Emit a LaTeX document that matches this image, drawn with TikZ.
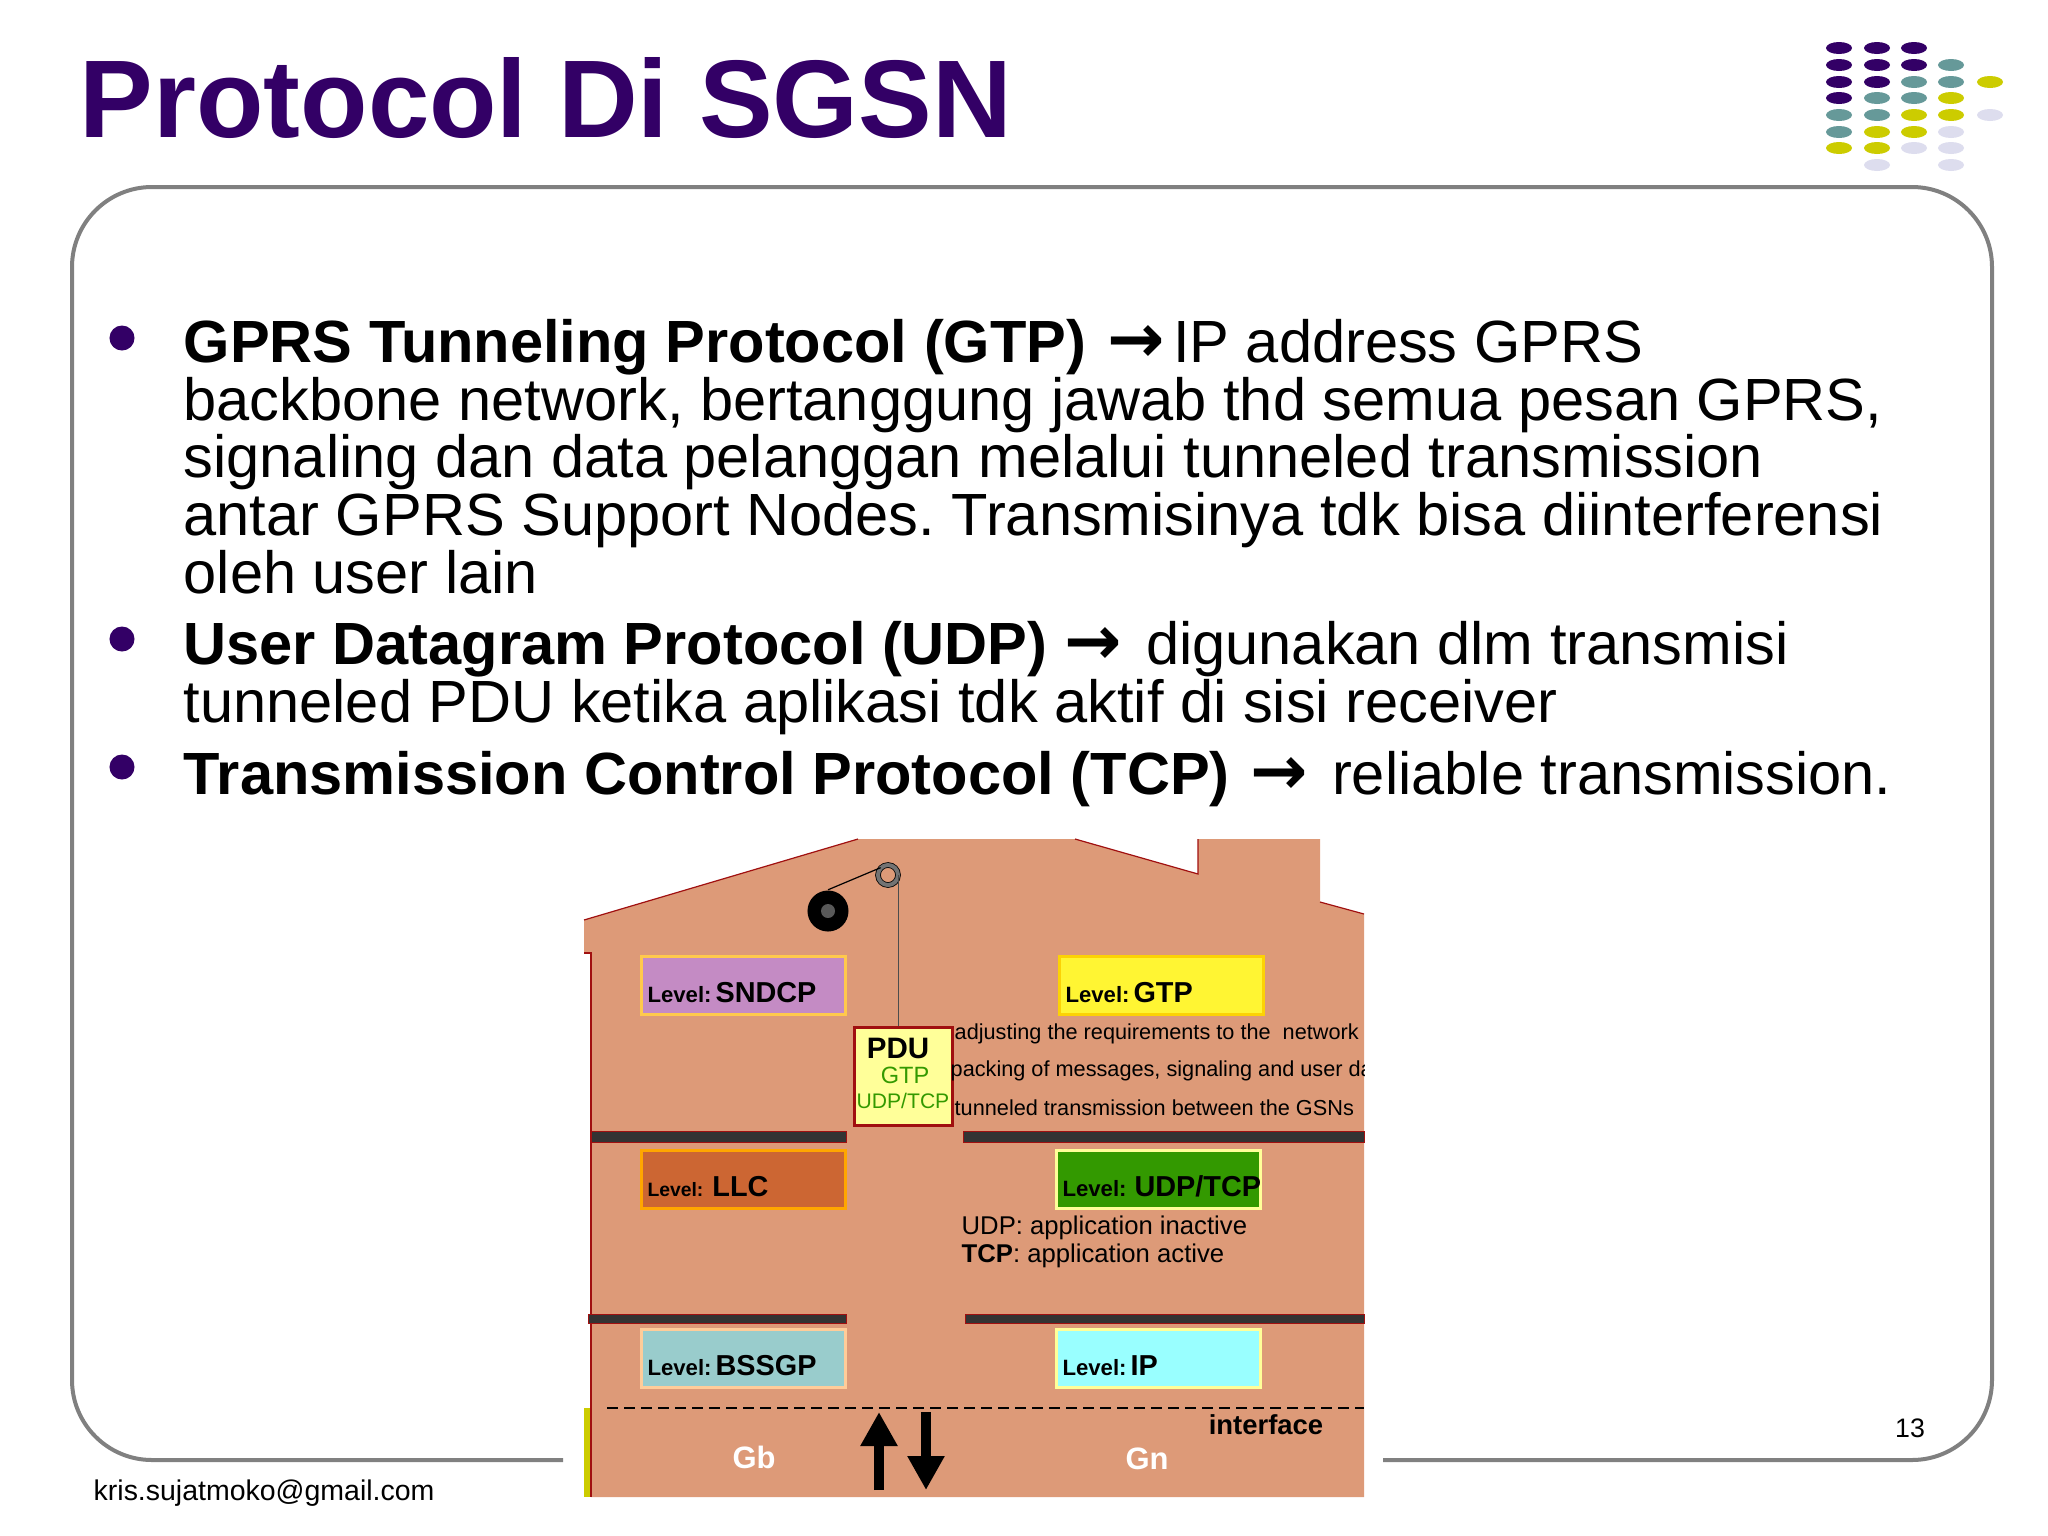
\documentclass[tikz,border=0pt]{standalone}
\usepackage{fontspec}
\setmainfont{Liberation Sans}
\newfontfamily\arrowfont{DejaVu Sans}
\usetikzlibrary{arrows.meta}

\definecolor{slatepurple}{HTML}{330066}
\definecolor{slateteal}{HTML}{669999}
\definecolor{slateyellow}{HTML}{CCCC00}
\definecolor{slatelilac}{HTML}{DDDDEE}
\definecolor{housefill}{HTML}{DD9A78}
\definecolor{houseedge}{HTML}{A01010}
\definecolor{floordark}{HTML}{333333}
\definecolor{pduyellow}{HTML}{FFFF99}
\definecolor{pdugreen}{HTML}{339900}

\newcommand{\bodyarrow}{{\arrowfont\bfseries\fontsize{19.5}{16.36}\selectfont →}\hspace{0.08cm}}
\newcommand{\levelname}[1]{\mbox{{\fontsize{6.3}{7}\selectfont\bfseries Level:}\hspace{0.04cm}{\fontsize{8.2}{9}\selectfont\bfseries #1}}}

\begin{document}
\frenchspacing
\begin{tikzpicture}[x = 0.01cm, y = -0.01cm,
    every node/.style = {inner sep = 0pt},
    titletext/.style = {anchor = base west, text = slatepurple,
        font = \fontsize{31.4}{34}\selectfont\bfseries},
    bodytext/.style = {anchor = north west, align = left,
        font = \fontsize{16.94}{16.36}\selectfont},
    bulletdot/.style = {shape = circle, fill = slatepurple, minimum size = 0.25cm},
    levelbox/.style = {anchor = north west, draw, line width = 0.03cm, align = left,
        text width = 1.92cm, inner xsep = 0.06cm, inner ysep = 0pt,
        text height = 0.46cm, text depth = 0.12cm},
    floorline/.style = {fill = floordark, draw = houseedge, line width = 0.01cm},
    housetext/.style = {anchor = west, font = \fontsize{6.17}{7}\selectfont},
    notetext/.style = {anchor = west, font = \fontsize{7.3}{8}\selectfont},
    bigarrow/.style = {line width = 0.1cm, -{Triangle[length = 0.34cm, width = 0.35cm]}}]

    \useasboundingbox (0, 0) rectangle (2048, 1536);

    \node (title) [titletext] at (79, 137) {Protocol Di SGSN};

    \foreach \col/\row/\tint in {
        1839/48/slatepurple, 1877/48/slatepurple, 1914/48/slatepurple,
        1839/65/slatepurple, 1877/65/slatepurple, 1914/65/slatepurple, 1951/65/slateteal,
        1839/82/slatepurple, 1877/82/slatepurple, 1914/82/slateteal, 1951/82/slateteal, 1990/82/slateyellow,
        1839/98/slatepurple, 1877/98/slateteal, 1914/98/slateteal, 1951/98/slateyellow,
        1839/115/slateteal, 1877/115/slateteal, 1914/115/slateyellow, 1951/115/slateyellow, 1990/115/slatelilac,
        1839/132/slateteal, 1877/132/slateyellow, 1914/132/slateyellow, 1951/132/slatelilac,
        1839/148/slateyellow, 1877/148/slateyellow, 1914/148/slatelilac, 1951/148/slatelilac,
        1877/165/slatelilac, 1951/165/slatelilac}
        \fill[\tint] (\col, \row) ellipse [x radius = 13, y radius = 6];

    \draw[gray, line width = 0.04cm, rounded corners = 0.8cm]
        (563, 1460) -| (72, 187) -| (1992, 1460) -- (1383, 1460);

    \node (bulleta) [bulletdot] at (122, 338) {};
    \node (bulletb) [bulletdot] at (122, 639) {};
    \node (bulletc) [bulletdot] at (122, 767) {};

    \node (gtptext) [bodytext] at (183, 319) {{\bfseries GPRS Tunneling Protocol (GTP)\hspace{0.05cm} \bodyarrow}IP address GPRS\\
        backbone network, bertanggung jawab thd semua pesan GPRS,\\
        signaling dan data pelanggan melalui tunneled transmission\\
        antar GPRS Support Nodes. Transmisinya tdk bisa diinterferensi\\
        oleh user lain};
    \node (udptext) [bodytext] at (183, 621) {{\bfseries User Datagram Protocol (UDP) \bodyarrow} digunakan dlm transmisi\\
        tunneled PDU ketika aplikasi tdk aktif di sisi receiver};
    \node (tcptext) [bodytext] at (183, 751) {{\bfseries Transmission Control Protocol (TCP)\hspace{0.04cm} \bodyarrow} reliable transmission.};

    \fill[housefill] (584, 920) -- (858, 839) -- (1075, 839) -- (1198, 874) -- (1198, 839)
        -- (1320, 839) -- (1320, 902) -- (1364, 914) -- (1364, 1497) -- (591, 1497)
        -- (591, 953) -- (584, 953) -- cycle;
    \draw[houseedge, line width = 0.012cm] (584, 920) -- (858, 839);
    \draw[houseedge, line width = 0.012cm] (1075, 839) -- (1198, 874) -- (1198, 839);
    \draw[houseedge, line width = 0.012cm] (1320, 902) -- (1364, 914);
    \draw[houseedge, line width = 0.02cm] (584, 953) -- (591, 953) -- (591, 1497);
    \fill[slateyellow] (584, 1408) rectangle (590, 1497);

    \node (wheel) [shape = circle, fill = black, minimum size = 0.41cm] at (828, 911) {};
    \node (hub) [shape = circle, fill = black!65, minimum size = 0.14cm] at (828, 911) {};
    \node (pulley) [shape = circle, draw = black, double = black!55, double distance = 0.04cm,
        line width = 0.008cm, minimum size = 0.2cm] at (888, 875) {};
    \draw[line width = 0.012cm] (wheel.north) -- (pulley.north west);

    \node (sndcp) [levelbox, draw = orange!60!yellow!70, fill = {rgb,255:red,196;green,139;blue,196}] at (640, 955) {\levelname{SNDCP}};
    \node (gtp) [levelbox, draw = yellow!70!orange, fill = yellow!80!white] at (1058, 955) {\levelname{GTP}};
    \node (llc) [levelbox, draw = orange!70!yellow, fill = {rgb,255:red,204;green,102;blue,51}] at (640, 1149) {\mbox{{\fontsize{5.5}{7}\selectfont\bfseries Level:}\hspace{0.09cm}{\fontsize{8.2}{9}\selectfont\bfseries LLC}}};
    \node (udptcp) [levelbox, draw = pduyellow, fill = pdugreen] at (1055, 1149) {\mbox{{\fontsize{6.3}{7}\selectfont\bfseries Level:}\hspace{0.08cm}{\fontsize{8.2}{9}\selectfont\bfseries UDP/TCP}}};
    \node (bssgp) [levelbox, draw = {rgb,255:red,255;green,204;blue,153}, fill = {rgb,255:red,153;green,204;blue,204}] at (640, 1328) {\levelname{BSSGP}};
    \node (ip) [levelbox, draw = pduyellow, fill = {rgb,255:red,153;green,255;blue,255}] at (1055, 1328) {\levelname{IP}};

    \node (pdu) [anchor = north west, draw = houseedge, fill = pduyellow, line width = 0.025cm,
        minimum width = 0.98cm, minimum height = 0.98cm] at (853, 1026) {};
    \node (pdutitle) [font = \fontsize{8.4}{9}\selectfont\bfseries] at (898, 1048) {PDU};
    \node (pdugtp) [text = pdugreen, font = \fontsize{6.7}{8}\selectfont] at (905, 1075) {GTP};
    \node (pduudp) [text = pdugreen, font = \fontsize{6}{7}\selectfont] at (903, 1101) {UDP/TCP};
    \draw[line width = 0.012cm, black!70] (pulley.east) -- (pulley.east |- pdu.north);

    \fill[floorline] (591, 1131) rectangle (846, 1142);
    \fill[floorline] (963, 1131) rectangle (1364, 1142);
    \fill[floorline] (588, 1314) rectangle (846, 1323);
    \fill[floorline] (965, 1314) rectangle (1364, 1323);

    \begin{scope}
        \clip (940, 1020) rectangle (1364, 1125);
        \node (adjust) [housetext] at (954, 1034) {adjusting the requirements to the\ \ network};
        \node (packing) [housetext] at (950, 1071) {packing of messages, signaling and user da};
        \node (tunnel) [housetext] at (954, 1108) {tunneled transmission between the GSNs};
    \end{scope}
    \node (udpnote) [notetext] at (961, 1228) {UDP: application inactive};
    \node (tcpnote) [notetext] at (961, 1256) {\textbf{TCP}: application active};

    \coordinate (dashstart) at (607, 1408);
    \coordinate (dashend) at (1364, 1408);
    \draw[dashed, line width = 0.015cm, dash pattern = on 0.11cm off 0.06cm] (dashstart) -- (dashend);

    \node (interface) [font = \fontsize{7.8}{9}\selectfont\bfseries] at (1266, 1425) {interface};
    \node (gb) [text = white, font = \fontsize{8.8}{10}\selectfont\bfseries] at (754, 1457) {Gb};
    \node (gn) [text = white, font = \fontsize{8.8}{10}\selectfont\bfseries] at (1147, 1459) {Gn};

    \coordinate (uplow) at (879, 1490);
    \coordinate (uphigh) at (879, 1412);
    \coordinate (downhigh) at (926, 1412);
    \coordinate (downlow) at (926, 1490);
    \draw[bigarrow] (uplow) -- (uphigh);
    \draw[bigarrow] (downhigh) -- (downlow);

    \node (number) [font = \fontsize{7.6}{9}\selectfont] at (1910, 1428) {13};
    \node (email) [anchor = base west, font = \fontsize{8.1}{10}\selectfont] at (93, 1500) {kris.sujatmoko@gmail.com};
\end{tikzpicture}
\end{document}
